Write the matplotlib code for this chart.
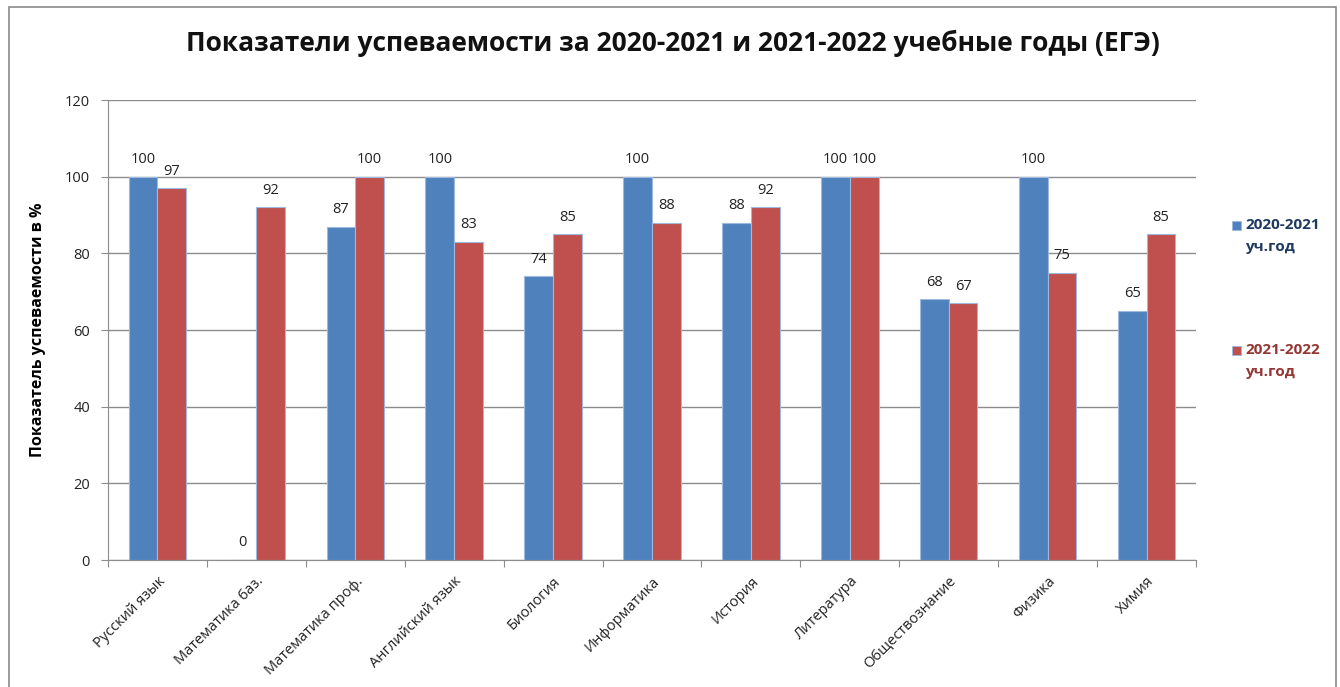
import matplotlib
matplotlib.use("Agg")
import matplotlib.pyplot as plt
import numpy as np
from matplotlib.patches import Rectangle

categories = ["Русский язык", "Математика баз.", "Математика проф.", "Английский язык",
              "Биология", "Информатика", "История", "Литература", "Обществознание",
              "Физика", "Химия"]
series_names = ["2020-2021\nуч.год", "2021-2022\nуч.год"]
values_2021 = [100, 0, 87, 100, 74, 100, 88, 100, 68, 100, 65]
values_2022 = [97, 92, 100, 83, 85, 88, 92, 100, 67, 75, 85]
yticks = [0, 20, 40, 60, 80, 100, 120]

FONT = ["Open Sans", "DejaVu Sans"]
plt.rcParams["font.family"] = FONT

W, H = 1340, 687
fig = plt.figure(figsize=(W / 100, H / 100), dpi=100)
fig.patch.set_facecolor("white")

# outer frame
fig.patches.append(Rectangle((9 / W, -0.01), (1336 - 9) / W, 1 - 7 / H + 0.01,
                             transform=fig.transFigure, fill=False,
                             edgecolor="#8a8a8a", linewidth=1.2))

ax = fig.add_axes([108 / W, 1 - 560 / H, (1196 - 108) / W, (560 - 100) / H])

blue = "#4F81BD"
red = "#C0504D"
x = np.arange(len(categories))
bw = 0.29
b1 = ax.bar(x - bw / 2, values_2021, bw, color=blue, edgecolor="#9db9e0", linewidth=0.8, zorder=3)
b2 = ax.bar(x + bw / 2, values_2022, bw, color=red, edgecolor="#9db9e0", linewidth=0.8, zorder=3)

for rect, v in zip(b1, values_2021):
    ax.text(rect.get_x() + rect.get_width() / 2, v + 2.5, str(v), ha="center", va="bottom",
            fontsize=10.5, color="#222222")
for rect, v in zip(b2, values_2022):
    ax.text(rect.get_x() + rect.get_width() / 2, v + 2.5, str(v), ha="center", va="bottom",
            fontsize=10.5, color="#222222")

ax.set_xlim(-0.5, len(categories) - 0.5)
ax.set_ylim(0, 120)
ax.set_yticks(yticks)
ax.set_yticklabels([str(t) for t in yticks], fontsize=10.5, color="#222222")
ax.yaxis.grid(True, color="#8c8c8c", linewidth=1, zorder=0)
ax.set_axisbelow(True)

ax.set_xticks(np.arange(-0.5, len(categories), 1.0))
ax.set_xticklabels([])
ax.set_xticks(x, minor=True)
ax.set_xticklabels(categories, minor=True, rotation=45, ha="right", rotation_mode="anchor",
                   fontsize=10.5, color="#222222")
ax.tick_params(axis="x", which="minor", length=0, pad=10)
ax.tick_params(axis="x", which="major", length=5, color="#8c8c8c")
ax.tick_params(axis="y", length=5, color="#8c8c8c", pad=8)

for s in ["top", "right"]:
    ax.spines[s].set_visible(False)
ax.spines["left"].set_color("#8c8c8c")
ax.spines["bottom"].set_color("#8c8c8c")

ax.set_ylabel("Показатель успеваемости в %", fontsize=11.5, fontweight="bold")
ax.yaxis.set_label_coords(-62 / (1196 - 108), 0.5)

fig.text(673 / W, 1 - 43 / H, "Показатели успеваемости за 2020-2021 и 2021-2022 учебные годы (ЕГЭ)",
         ha="center", va="center", fontsize=19, fontweight="bold", color="#111111")

# legend
leg_items = [(series_names[0], blue, "#1F3A60", 225), (series_names[1], red, "#943634", 350)]
for name, col, tcol, ypix in leg_items:
    fig.patches.append(Rectangle((1232 / W, 1 - (ypix + 5) / H), 9 / W, 9 / H,
                                 transform=fig.transFigure, facecolor=col, edgecolor="#9db9e0",
                                 linewidth=0.6))
    l1, l2 = name.split("\n")
    fig.text(1245 / W, 1 - ypix / H, l1, ha="left", va="center", fontsize=11,
             fontweight="bold", color=tcol)
    fig.text(1245 / W, 1 - (ypix + 22) / H, l2, ha="left", va="center", fontsize=11,
             fontweight="bold", color=tcol)

fig.savefig("out.png", dpi=100, facecolor="white")
